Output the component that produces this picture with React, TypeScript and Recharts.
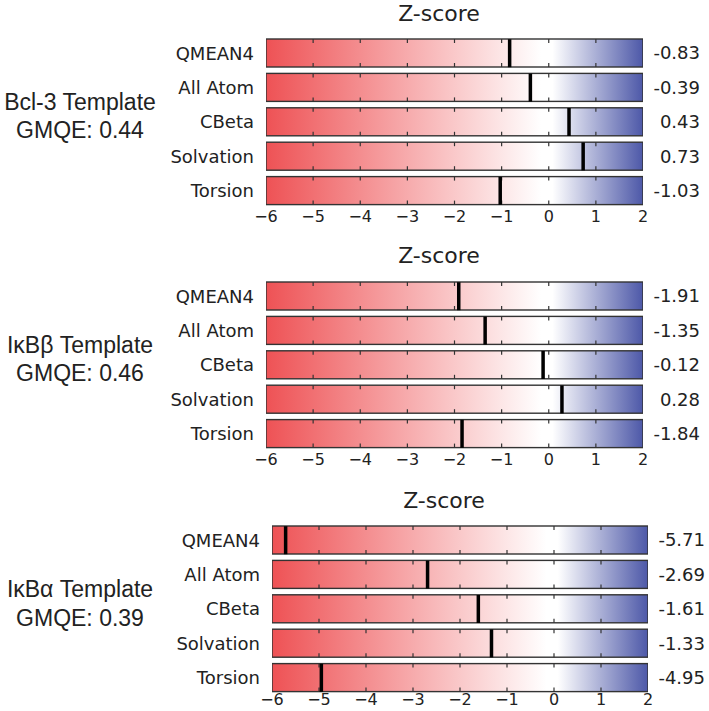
import { ComposedChart, Bar, Scatter, XAxis, YAxis, LabelList } from 'recharts';

// QMEAN Z-scores per template
const metrics = ['QMEAN4', 'All Atom', 'CBeta', 'Solvation', 'Torsion'];
const templateNames = ['Bcl-3 Template', 'IκBβ Template', 'IκBα Template'];
const gmqeValues = ['0.44', '0.46', '0.39'];
const bcl3Scores = [-0.83, -0.39, 0.43, 0.73, -1.03];
const ikbbScores = [-1.91, -1.35, -0.12, 0.28, -1.84];
const ikbaScores = [-5.71, -2.69, -1.61, -1.33, -4.95];
const zTicks = [-6, -5, -4, -3, -2, -1, 0, 1, 2];
const zDomain: [number, number] = [-6, 2];

const scoreSets = [bcl3Scores, ikbbScores, ikbaScores];

const DEJAVU = '"DejaVu Sans", sans-serif';
const ARIAL = '"Liberation Sans", Arial, sans-serif';
const TEXT = '#222';
const BAR_SIZE = 28;

// where each panel sits on the page
const panels = [
  { plotTop: 36, plotLeft: 266, plotRight: 643, labelRight: 700, tickDy: 0, titleX: 439, titleY: 21, nameY: 110, gmqeY: 138 },
  { plotTop: 279, plotLeft: 266, plotRight: 643, labelRight: 700, tickDy: 0, titleX: 439, titleY: 263, nameY: 353, gmqeY: 381 },
  { plotTop: 523, plotLeft: 272, plotRight: 648, labelRight: 705, tickDy: -4, titleX: 444, titleY: 508, nameY: 597, gmqeY: 626 },
];
const PLOT_H = 172;
const AXIS_H = 26;

const fmtTick = (v: number) => (v < 0 ? `\u2212${-v}` : `${v}`);

const Track = (props: any) => {
  const { x, y, width, height, gradId } = props;
  const [lo, hi] = zDomain;
  const inner = zTicks.filter((t) => t > lo && t < hi);
  return (
    <g>
      <rect x={x} y={y} width={width} height={height} fill={`url(#${gradId})`} stroke="#333" strokeWidth={1.4} />
      {inner.map((t) => {
        const tx = x + ((t - lo) / (hi - lo)) * width;
        return (
          <g key={t}>
            <line x1={tx} x2={tx} y1={y} y2={y + 4} stroke="#333" strokeWidth={1.2} />
            <line x1={tx} x2={tx} y1={y + height - 4} y2={y + height} stroke="#333" strokeWidth={1.2} />
          </g>
        );
      })}
    </g>
  );
};

const Marker = (props: any) => {
  const { cx, cy } = props;
  return <rect x={cx - 1.75} y={cy - BAR_SIZE / 2} width={3.5} height={BAR_SIZE} fill="#000" />;
};

const Panel = ({ idx }: { idx: number }) => {
  const p = panels[idx];
  const gradId = `zgrad-${idx}`;
  const data = metrics.map((name, i) => ({ name, value: scoreSets[idx][i], span: zDomain }));
  const labelOffset = p.labelRight - p.plotRight;

  return (
    <div style={{ position: 'absolute', left: 0, top: p.plotTop }}>
      <ComposedChart
        width={709}
        height={PLOT_H + AXIS_H}
        data={data}
        layout="vertical"
        margin={{ top: 0, right: 709 - p.plotRight, left: 0, bottom: 0 }}
      >
        <defs>
          <linearGradient id={gradId} x1="0" y1="0" x2="1" y2="0">
            <stop offset="0%" stopColor="#ee5255" />
            <stop offset="73%" stopColor="#ffffff" />
            <stop offset="76%" stopColor="#ffffff" />
            <stop offset="100%" stopColor="#4d58a8" />
          </linearGradient>
        </defs>
        <XAxis
          type="number"
          domain={zDomain}
          ticks={zTicks}
          interval={0}
          allowDataOverflow
          axisLine={false}
          tickLine={false}
          tickSize={0}
          tickMargin={3}
          height={AXIS_H}
          tickFormatter={fmtTick}
          tick={{ fontSize: 16, fill: TEXT, fontFamily: DEJAVU, dy: p.tickDy }}
        />
        <YAxis
          type="category"
          dataKey="name"
          width={p.plotLeft}
          interval={0}
          axisLine={false}
          tickLine={false}
          tickSize={0}
          tickMargin={12}
          tick={{ fontSize: 18, fill: TEXT, fontFamily: DEJAVU }}
        />
        <Bar
          dataKey="span"
          barSize={BAR_SIZE}
          isAnimationActive={false}
          shape={(bp: any) => <Track {...bp} gradId={gradId} />}
        >
          <LabelList
            dataKey="value"
            content={(lp: any) => (
              <text
                x={lp.x + lp.width + labelOffset}
                y={lp.y + lp.height / 2}
                dy="0.36em"
                textAnchor="end"
                fontSize={18}
                fill={TEXT}
                fontFamily={DEJAVU}
              >
                {lp.value}
              </text>
            )}
          />
        </Bar>
        <Scatter dataKey="value" isAnimationActive={false} shape={Marker} />
      </ComposedChart>
    </div>
  );
};

export default function App() {
  return (
    <div style={{ position: 'absolute', left: 0, top: 0, width: 709, height: 711, overflow: 'hidden', background: '#fff' }}>
      <svg width={709} height={711} style={{ position: 'absolute', left: 0, top: 0 }}>
        {panels.map((p, i) => (
          <g key={i}>
            <text x={p.titleX} y={p.titleY} textAnchor="middle" fontSize={22} fill={TEXT} fontFamily={DEJAVU}>
              Z-score
            </text>
            <text x={80} y={p.nameY} textAnchor="middle" fontSize={23} fill={TEXT} fontFamily={ARIAL}>
              {templateNames[i]}
            </text>
            <text x={80} y={p.gmqeY} textAnchor="middle" fontSize={23} fill={TEXT} fontFamily={ARIAL}>
              GMQE: {gmqeValues[i]}
            </text>
          </g>
        ))}
      </svg>
      {panels.map((_, i) => (
        <Panel key={i} idx={i} />
      ))}
    </div>
  );
}
